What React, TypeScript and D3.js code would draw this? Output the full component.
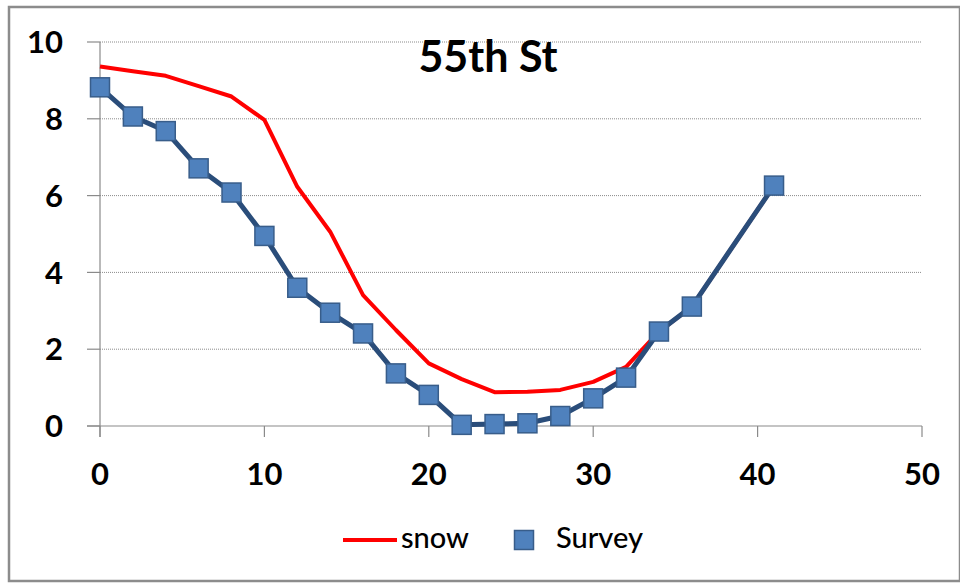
import React from 'react';
import * as d3 from 'd3';

const xValues = [0, 2, 4, 6, 8, 10, 12, 14, 16, 18, 20, 22, 24, 26, 28, 30, 32, 34, 36, 41];
const snowValues = [9.36, 9.24, 9.12, 8.85, 8.58, 7.97, 6.23, 5.06, 3.41, 2.5, 1.63, 1.22, 0.88, 0.89, 0.94, 1.15, 1.54, 2.46, 3.11, 6.26];
const surveyValues = [8.82, 8.06, 7.68, 6.71, 6.08, 4.95, 3.6, 2.95, 2.41, 1.37, 0.81, 0.03, 0.05, 0.07, 0.26, 0.72, 1.26, 2.46, 3.11, 6.26];
const xTicks = [0, 10, 20, 30, 40, 50];
const yTicks = [0, 2, 4, 6, 8, 10];
const title = '55th St';
const seriesNames = ['snow', 'Survey'];

const W = 960;
const H = 583;
const font = 'Lato, "Open Sans", sans-serif';

const App: React.FC = () => {
  const x = d3.scaleLinear().domain([0, 50]).range([100, 922]);
  const y = d3.scaleLinear().domain([0, 10]).range([426, 42]);

  const line = d3.line<number>()
    .x((_, i) => x(xValues[i]))
    .y(d => y(d));

  const [x0, x1] = x.range();

  return (
    <svg width={W} height={H} style={{ position: 'absolute', left: 0, top: 0, background: '#fff' }}>
      <rect x={9} y={7} width={951} height={574} fill="#fff" stroke="#8c8c8c" strokeWidth={2.5} />

      {/* gridlines */}
      {yTicks.filter(t => t > 0).map(t => (
        <line key={'g' + t} x1={x0} x2={x1} y1={y(t)} y2={y(t)} stroke="#8a8a8a" strokeWidth={1} strokeDasharray="1,1" />
      ))}

      {/* axes */}
      <line x1={x0} x2={x0} y1={y(10)} y2={y(0) + 11} stroke="#8a8a8a" strokeWidth={1.2} />
      <line x1={x0 - 13} x2={x1} y1={y(0)} y2={y(0)} stroke="#8a8a8a" strokeWidth={1.2} />
      {yTicks.map(t => (
        <g key={'y' + t}>
          <line x1={x0 - 13} x2={x0} y1={y(t)} y2={y(t)} stroke="#8a8a8a" strokeWidth={1.2} />
          <text x={63} y={y(t)} dy="0.36em" textAnchor="end" fontFamily={font} fontWeight="bold" fontSize={31} fill="#000">{t}</text>
        </g>
      ))}
      {xTicks.map(t => (
        <g key={'x' + t}>
          <line x1={x(t)} x2={x(t)} y1={y(0)} y2={y(0) + 11} stroke="#8a8a8a" strokeWidth={1.2} />
          <text x={x(t)} y={485} textAnchor="middle" fontFamily={font} fontWeight="bold" fontSize={31} fill="#000">{t}</text>
        </g>
      ))}

      {/* title */}
      <text x={488} y={72} textAnchor="middle" fontFamily={font} fontWeight="bold" fontSize={43} fill="#000">{title}</text>

      {/* snow */}
      <path d={line(snowValues) || ''} fill="none" stroke="#ff0000" strokeWidth={4} strokeLinejoin="round" />

      {/* survey */}
      <path d={line(surveyValues) || ''} fill="none" stroke="#2a4d7a" strokeWidth={5} strokeLinejoin="round" />
      {surveyValues.map((v, i) => (
        <rect key={'m' + i} x={x(xValues[i]) - 9.5} y={y(v) - 9.5} width={19} height={19} fill="#4f81bd" stroke="#385d8a" strokeWidth={1.5} />
      ))}

      {/* legend */}
      <line x1={343} x2={397} y1={540} y2={540} stroke="#ff0000" strokeWidth={4} />
      <text x={401} y={548} fontFamily={font} fontWeight={500} fontSize={29} fill="#000">{seriesNames[0]}</text>
      <rect x={514.5} y={530.5} width={19} height={19} fill="#4f81bd" stroke="#385d8a" strokeWidth={1.5} />
      <text x={556} y={548} fontFamily={font} fontWeight={500} fontSize={29} fill="#000">{seriesNames[1]}</text>
    </svg>
  );
};

export default App;
